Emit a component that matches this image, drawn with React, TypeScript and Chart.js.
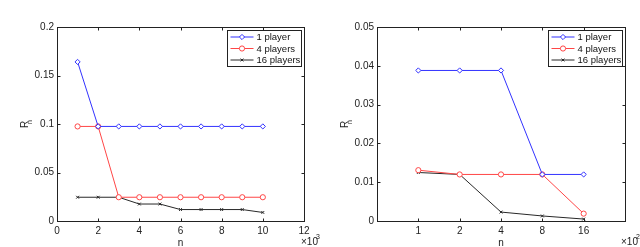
import React, { useEffect, useRef } from "react";
import { Chart, registerables } from "chart.js";
Chart.register(...registerables);

// Left panel (n in units of 10^3)
const leftN = [1, 2, 3, 4, 5, 6, 7, 8, 9, 10];
const left1 = [0.164, 0.0975, 0.0975, 0.0975, 0.0975, 0.0975, 0.0975, 0.0975, 0.0975, 0.0975];
const left4 = [0.0975, 0.0975, 0.0245, 0.0245, 0.0245, 0.0245, 0.0245, 0.0245, 0.0245, 0.0245];
const left16 = [0.0245, 0.0245, 0.0245, 0.0175, 0.0175, 0.0118, 0.0118, 0.0118, 0.0118, 0.0088];
const leftXTicks = [0, 2, 4, 6, 8, 10, 12];
const leftYTicks = [0, 0.05, 0.1, 0.15, 0.2];

// Right panel (n in units of 10^2), categories evenly spaced
const rightCats = ["1", "2", "4", "8", "16"];
const right1 = [0.0388, 0.0388, 0.0388, 0.012, 0.012];
const right4 = [0.0131, 0.012, 0.012, 0.012, 0.0019];
const right16 = [0.0125, 0.012, 0.0023, 0.0013, 0.0005];
const rightYTicks = [0, 0.01, 0.02, 0.03, 0.04, 0.05];

const seriesNames = ["1 player", "4 players", "16 players"];
const colors = ["rgb(50,50,255)", "rgb(255,70,70)", "rgb(40,40,40)"];
const markers = ["rectRot", "circle", "crossRot"];
const FONT = '"Liberation Sans", Arial, sans-serif';

function fmt(v: number) {
  return String(parseFloat(v.toFixed(4)));
}

function drawMarker(ctx: any, style: string, x: number, y: number, r: number, color: string) {
  ctx.save();
  ctx.strokeStyle = color;
  ctx.lineWidth = 1;
  ctx.beginPath();
  if (style === "rectRot") {
    ctx.moveTo(x, y - r); ctx.lineTo(x + r, y); ctx.lineTo(x, y + r); ctx.lineTo(x - r, y); ctx.closePath();
    ctx.fillStyle = "#fff"; ctx.fill();
  } else if (style === "circle") {
    ctx.arc(x, y, r, 0, Math.PI * 2);
    ctx.fillStyle = "#fff"; ctx.fill();
  } else {
    const d = r * 0.7;
    ctx.moveTo(x - d, y - d); ctx.lineTo(x + d, y + d);
    ctx.moveTo(x + d, y - d); ctx.lineTo(x - d, y + d);
  }
  ctx.stroke();
  ctx.restore();
}

function makePlugin(exp: string, xTickVals: number[], yTickVals: number[]) {
  return {
    id: "matlabDecor",
    afterDraw(chart: any) {
      const ctx = chart.ctx;
      const a = chart.chartArea;
      const xs = chart.scales.x;
      const ys = chart.scales.y;
      ctx.save();
      ctx.strokeStyle = "#222";
      ctx.lineWidth = 1;
      const L = Math.round(a.left) + 0.5, R = Math.round(a.right) + 0.5;
      const T = Math.round(a.top) + 0.5, B = Math.round(a.bottom) + 0.5;
      ctx.strokeRect(L, T, R - L, B - T);
      ctx.beginPath();
      const tl = 3;
      for (const v of xTickVals) {
        const px = Math.round(xs.getPixelForValue(v)) + 0.5;
        ctx.moveTo(px, B); ctx.lineTo(px, B - tl);
        ctx.moveTo(px, T); ctx.lineTo(px, T + tl);
      }
      for (const v of yTickVals) {
        const py = Math.round(ys.getPixelForValue(v)) + 0.5;
        ctx.moveTo(L, py); ctx.lineTo(L + tl, py);
        ctx.moveTo(R, py); ctx.lineTo(R - tl, py);
      }
      ctx.stroke();

      ctx.fillStyle = "#222";
      // x label
      ctx.font = `10px ${FONT}`;
      ctx.textAlign = "center";
      ctx.textBaseline = "alphabetic";
      ctx.fillText("n", (a.left + a.right) / 2, 246);
      // multiplier
      ctx.textAlign = "left";
      ctx.fillText("\u00d710", 301, 245);
      ctx.font = `7px ${FONT}`;
      ctx.fillText(exp, 316, 239);
      // y label R_n
      ctx.save();
      ctx.translate(27.5, (a.top + a.bottom) / 2 + 4);
      ctx.rotate(-Math.PI / 2);
      ctx.font = `10px ${FONT}`;
      ctx.textAlign = "left";
      ctx.fillText("R", 0, 0);
      ctx.font = `7px ${FONT}`;
      ctx.fillText("n", 4, 4);
      ctx.restore();

      // legend
      const bx = Math.round(a.right) - 77 + 0.5, by = Math.round(a.top) + 3 + 0.5;
      const bw = 74, bh = 36;
      ctx.fillStyle = "#fff";
      ctx.fillRect(bx, by, bw, bh);
      ctx.strokeStyle = "#222";
      ctx.strokeRect(bx, by, bw, bh);
      chart.data.datasets.forEach((ds: any, i: number) => {
        const ry = by + 6.5 + i * 11.5;
        ctx.strokeStyle = ds.borderColor;
        ctx.lineWidth = 1;
        ctx.beginPath();
        ctx.moveTo(bx + 3, ry); ctx.lineTo(bx + 26, ry);
        ctx.stroke();
        drawMarker(ctx, ds.pointStyle, bx + 14.5, ry, ds.pointRadius, ds.borderColor);
        ctx.fillStyle = "#111";
        ctx.font = `9.5px ${FONT}`;
        ctx.textAlign = "left";
        ctx.textBaseline = "middle";
        ctx.fillText(ds.label, bx + 29, ry + 0.5);
      });
      ctx.restore();
    },
  };
}

function buildConfig(
  xs: number[], series: number[][], xMin: number, xMax: number, xTickVals: number[],
  xLabel: (v: number) => string, yMax: number, yTickVals: number[], exp: string, rightPad: number
): any {
  return {
    type: "line",
    data: {
      datasets: series.map((s, i) => ({
        label: seriesNames[i],
        data: s.map((v, j) => ({ x: xs[j], y: v })),
        borderColor: colors[i],
        backgroundColor: "#fff",
        borderWidth: 1,
        pointStyle: markers[i],
        pointRadius: i === 2 ? 2 : 2.6,
        pointBorderWidth: 1,
        pointBackgroundColor: "#fff",
        pointBorderColor: colors[i],
        tension: 0,
        fill: false,
      })),
    },
    options: {
      animation: false,
      responsive: false,
      devicePixelRatio: 1,
      layout: { padding: { left: 0, right: rightPad, top: 27, bottom: 0 } },
      plugins: { legend: { display: false }, tooltip: { enabled: false } },
      scales: {
        x: {
          type: "linear",
          min: xMin,
          max: xMax,
          afterBuildTicks: (s: any) => { s.ticks = xTickVals.map((v) => ({ value: v })); },
          afterFit: (s: any) => { s.height = 26; },
          grid: { display: false, drawTicks: false },
          border: { display: false },
          ticks: {
            padding: 4,
            color: "#222",
            font: { family: FONT, size: 10 },
            maxRotation: 0,
            autoSkip: false,
            callback: (v: any) => xLabel(Number(v)),
          },
        },
        y: {
          type: "linear",
          min: 0,
          max: yMax,
          afterBuildTicks: (s: any) => { s.ticks = yTickVals.map((v) => ({ value: v })); },
          afterFit: (s: any) => { s.width = 57; },
          grid: { display: false, drawTicks: false },
          border: { display: false },
          ticks: {
            padding: 3,
            color: "#222",
            font: { family: FONT, size: 10 },
            autoSkip: false,
            callback: (v: any) => fmt(Number(v)),
          },
        },
      },
    },
    plugins: [makePlugin(exp, xTickVals, yTickVals)],
  };
}

function Panel({ cfg }: { cfg: () => any }) {
  const ref = useRef<HTMLCanvasElement>(null);
  useEffect(() => {
    const chart = new Chart(ref.current as HTMLCanvasElement, cfg());
    return () => chart.destroy();
  }, []);
  return <canvas ref={ref} width={320} height={247} style={{ width: 320, height: 247, display: "block" }} />;
}

export default function App() {
  useEffect(() => {
    document.body.style.margin = "0";
    document.body.style.background = "#fff";
  }, []);
  const rightIdx = rightCats.map((_, i) => i + 1);
  return (
    <div style={{ display: "flex", width: 640, height: 247, background: "#fff" }}>
      <Panel
        cfg={() =>
          buildConfig(leftN, [left1, left4, left16], 0, 12, leftXTicks, (v) => String(v), 0.2, leftYTicks, "3", 16)
        }
      />
      <Panel
        cfg={() =>
          buildConfig(rightIdx, [right1, right4, right16], 0, 6, rightIdx, (v) => rightCats[v - 1] ?? "", 0.05, rightYTicks, "2", 15)
        }
      />
    </div>
  );
}
